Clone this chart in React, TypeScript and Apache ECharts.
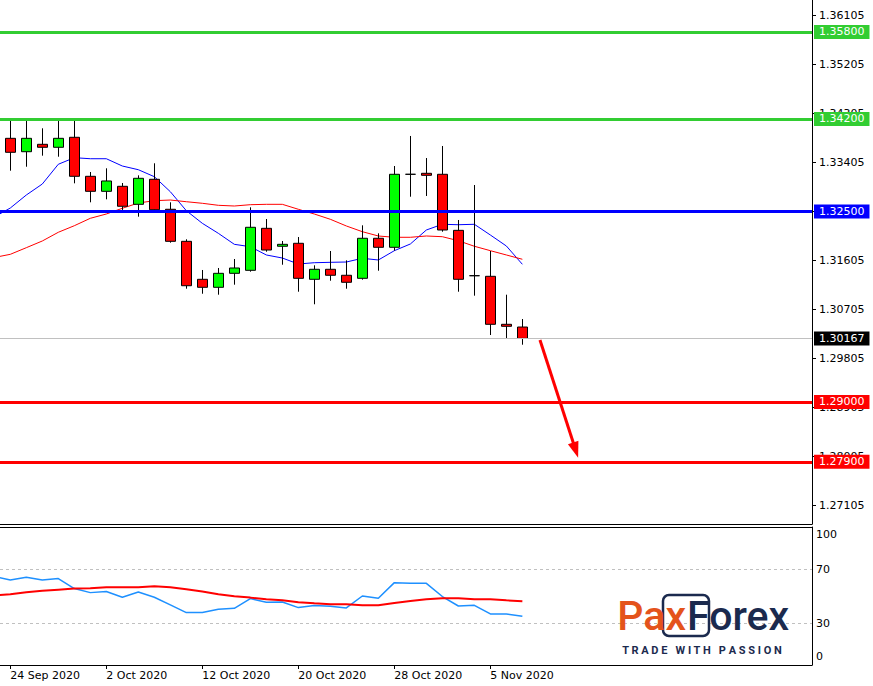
import React, { useEffect, useRef } from 'react';
import * as echarts from 'echarts';

// ---- data ----
const dates = [
  '24 Sep 2020', '25 Sep 2020', '28 Sep 2020', '29 Sep 2020', '30 Sep 2020',
  '1 Oct 2020', '2 Oct 2020', '5 Oct 2020', '6 Oct 2020', '7 Oct 2020', '8 Oct 2020', '9 Oct 2020',
  '12 Oct 2020', '13 Oct 2020', '14 Oct 2020', '15 Oct 2020', '16 Oct 2020',
  '19 Oct 2020', '20 Oct 2020', '21 Oct 2020', '22 Oct 2020', '23 Oct 2020',
  '26 Oct 2020', '27 Oct 2020', '28 Oct 2020', '29 Oct 2020', '30 Oct 2020',
  '2 Nov 2020', '3 Nov 2020', '4 Nov 2020', '5 Nov 2020', '6 Nov 2020', '9 Nov 2020',
];
const dateLabelIndex = [0, 6, 12, 18, 24, 30];

const open = [
  1.33844, 1.33598, 1.33734, 1.33679, 1.33863, 1.33146, 1.32870, 1.32962, 1.32631, 1.33091,
  1.32540, 1.31951, 1.31253, 1.31106, 1.31363, 1.31418, 1.32190, 1.31860, 1.31915, 1.31253,
  1.31437, 1.31327, 1.31271, 1.32007, 1.31841, 1.33183, 1.33201, 1.33183, 1.32153, 1.31319,
  1.31308, 1.30426, 1.30376,
];
const close = [
  1.33587, 1.33844, 1.33679, 1.33844, 1.33146, 1.32870, 1.33060, 1.32595, 1.33109, 1.32532,
  1.31951, 1.31135, 1.31106, 1.31363, 1.31461, 1.32209, 1.31791, 1.31896, 1.31271, 1.31437,
  1.31327, 1.31198, 1.32007, 1.31841, 1.33183, 1.33183, 1.33164, 1.32159, 1.31253, 1.31319,
  1.30426, 1.30389, 1.30167,
];
const low = [
  1.33249, 1.33322, 1.33525, 1.33506, 1.33017, 1.32668, 1.32723, 1.32527, 1.32404, 1.32510,
  1.31926, 1.31080, 1.30988, 1.30970, 1.31154, 1.31393, 1.31760, 1.31521, 1.31025, 1.30794,
  1.31227, 1.31080, 1.31246, 1.31411, 1.31779, 1.32771, 1.32784, 1.32128, 1.31025, 1.30952,
  1.30229, 1.30169, 1.30051,
];
const high = [
  1.34190, 1.34190, 1.34028, 1.34190, 1.34190, 1.33225, 1.33293, 1.33023, 1.33164, 1.33385,
  1.32668, 1.31988, 1.31424, 1.31461, 1.31626, 1.32576, 1.32361, 1.31957, 1.32030, 1.31510,
  1.31773, 1.31602, 1.32245, 1.32098, 1.33335, 1.33887, 1.33482, 1.33703, 1.32343, 1.32986,
  1.31773, 1.30970, 1.30523,
];

// indicator values start one bar before the first visible candle
const indicatorStart = -1;
const fastMA = [
  1.32398, 1.32563, 1.32802, 1.33004, 1.33367, 1.33488, 1.33469, 1.33469, 1.33335, 1.33267,
  1.33139, 1.32863, 1.32514, 1.32282, 1.32098, 1.31896, 1.31852, 1.31700, 1.31644, 1.31534,
  1.31558, 1.31565, 1.31571, 1.31639, 1.31608, 1.31779, 1.31902, 1.32159, 1.32264, 1.32256,
  1.32264, 1.32067, 1.31865, 1.31529,
];
const slowMA = [
  1.31654, 1.31712, 1.31834, 1.31957, 1.32117, 1.32238, 1.32374, 1.32453, 1.32558, 1.32655,
  1.32698, 1.32710, 1.32679, 1.32650, 1.32613, 1.32600, 1.32624, 1.32631, 1.32631, 1.32540,
  1.32453, 1.32356, 1.32233, 1.32128, 1.32049, 1.32025, 1.32025, 1.32049, 1.32036, 1.31962,
  1.31860, 1.31779, 1.31700, 1.31621,
];
const rsi = [
  64.5, 62.1, 64.1, 62.1, 63.1, 55.7, 52.7, 53.5, 49.3, 53.2,
  49.3, 43.6, 37.9, 37.9, 40.4, 41.1, 48.3, 45.6, 45.8, 41.6,
  43.1, 42.6, 41.4, 50.2, 48.5, 60.1, 59.6, 59.6, 49.8, 42.8,
  43.3, 36.9, 36.9, 35.2,
];
const rsiSignal = [
  50.6, 51.5, 53.0, 54.0, 54.9, 55.7, 55.9, 56.7, 56.7, 56.7,
  57.4, 56.7, 55.2, 53.5, 51.5, 50.0, 49.0, 47.8, 47.0, 45.6,
  44.8, 44.1, 44.1, 43.3, 43.3, 45.1, 46.5, 47.8, 48.5, 48.5,
  47.8, 47.8, 47.0, 46.3,
];

const priceTicks = [1.27105, 1.28005, 1.28905, 1.29805, 1.30705, 1.31605, 1.32505, 1.33405, 1.34305, 1.35205, 1.36105];
const rsiTicks = [0, 30, 70, 100];
const rsiLevels = [70, 30];

const levels = [1.358, 1.342, 1.325, 1.30167, 1.29, 1.279];
// arrow annotation: [bar index, price]
const arrowFrom = [33.1, 1.30137];
const arrowTo = [35.33, 1.28115];

// ---- styles ----
const levelColors = ['#32cd32', '#32cd32', '#0000ff', '#000000', '#ff0000', '#ff0000'];
const levelLineColors = ['#32cd32', '#32cd32', '#0000ff', '#c0c0c0', '#ff0000', '#ff0000'];
const levelWidths = [3, 3, 3, 1, 3, 3];

const X_MIN = -0.644;
const X_MAX = 50.1;
const Y_MIN = 1.26756;
const Y_MAX = 1.36386;
const FONT = 'DejaVu Sans';
const NAVY = '#1b2a4e';
const ORANGE = '#e4531b';

export default function App() {
  const ref = useRef<HTMLDivElement>(null);

  useEffect(() => {
    if (!ref.current) return;
    const chart = echarts.init(ref.current, null, { renderer: 'svg' });

    const candleData = open.map((o, i) => [i, o, close[i], low[i], high[i]]);
    const toPts = (arr: number[]) => arr.map((v, k) => [k + indicatorStart, v]);

    const levelMarks = levels.map((v, i) => ({
      yAxis: v,
      lineStyle: { color: levelLineColors[i], width: levelWidths[i], type: 'solid' },
      label: {
        show: true,
        position: 'end',
        formatter: v.toFixed(5),
        color: '#ffffff',
        backgroundColor: levelColors[i],
        padding: [1, 5, 1, 5],
        fontSize: 11,
        lineHeight: 12,
        fontFamily: FONT,
        distance: 2,
      },
    }));

    const axisBlack = { show: true, onZero: false, lineStyle: { color: '#000', width: 1 } };

    const option: any = {
      animation: false,
      backgroundColor: '#ffffff',
      textStyle: { fontFamily: FONT },
      grid: [
        { left: 0, top: 0, width: 812, height: 524, outerBoundsMode: 'none' },
        { left: 0, top: 527, width: 812, height: 138, outerBoundsMode: 'none' },
      ],
      xAxis: [
        {
          type: 'value', gridIndex: 0, min: X_MIN, max: X_MAX,
          axisLine: axisBlack, axisTick: { show: false }, axisLabel: { show: false }, splitLine: { show: false },
        },
        {
          type: 'value', gridIndex: 1, min: X_MIN, max: X_MAX, position: 'bottom',
          axisLine: axisBlack,
          axisTick: { show: true, customValues: dateLabelIndex, length: 4, lineStyle: { color: '#000' } },
          axisLabel: {
            customValues: dateLabelIndex,
            formatter: (v: number) => dates[Math.round(v)],
            align: 'left', margin: 5, fontSize: 11, color: '#000', fontFamily: FONT,
          },
          splitLine: { show: false },
        },
        {
          type: 'value', gridIndex: 1, min: X_MIN, max: X_MAX, position: 'top',
          axisLine: axisBlack, axisTick: { show: false }, axisLabel: { show: false }, splitLine: { show: false },
        },
      ],
      yAxis: [
        {
          type: 'value', gridIndex: 0, position: 'right', min: Y_MIN, max: Y_MAX, scale: true,
          axisLine: axisBlack,
          axisTick: { show: true, customValues: priceTicks, length: 4, lineStyle: { color: '#000' } },
          axisLabel: {
            customValues: priceTicks,
            formatter: (v: number) => v.toFixed(5),
            margin: 7, fontSize: 11, color: '#000', fontFamily: FONT,
          },
          splitLine: { show: false },
        },
        {
          type: 'value', gridIndex: 1, position: 'right', min: -0.9, max: 101.3,
          axisLine: axisBlack,
          axisTick: { show: false },
          axisLabel: {
            customValues: rsiTicks,
            margin: 4, fontSize: 11, color: '#000', fontFamily: FONT,
            formatter: (v: number) => (v === 100 ? '{t|100}' : v === 0 ? '{b|0}' : '{m|' + v + '}'),
            rich: {
              t: { padding: [12, 0, 0, 0], fontSize: 11, color: '#000', fontFamily: FONT },
              b: { padding: [0, 0, 14, 0], fontSize: 11, color: '#000', fontFamily: FONT },
              m: { fontSize: 11, color: '#000', fontFamily: FONT },
            },
          },
          splitLine: { show: false },
        },
      ],
      series: [
        {
          name: 'fastMA', type: 'line', xAxisIndex: 0, yAxisIndex: 0, z: 2,
          data: toPts(fastMA), showSymbol: false, symbol: 'none',
          lineStyle: { color: '#0000ff', width: 1 }, silent: true,
        },
        {
          name: 'slowMA', type: 'line', xAxisIndex: 0, yAxisIndex: 0, z: 2,
          data: toPts(slowMA), showSymbol: false, symbol: 'none',
          lineStyle: { color: '#ff0000', width: 1 }, silent: true,
        },
        {
          name: 'GBPUSD', type: 'candlestick', xAxisIndex: 0, yAxisIndex: 0, z: 3,
          dimensions: ['idx', 'open', 'close', 'lowest', 'highest'],
          encode: { x: 'idx', y: ['open', 'close', 'lowest', 'highest'] },
          data: candleData,
          barWidth: 10,
          itemStyle: {
            color: '#00ff00', color0: '#ff0000',
            borderColor: '#000000', borderColor0: '#000000', borderColorDoji: '#000000',
            borderWidth: 1,
          },
          markLine: {
            silent: true, symbol: ['none', 'none'], animation: false, precision: 5,
            data: levelMarks,
          },
        },
        {
          name: 'arrow', type: 'line', xAxisIndex: 0, yAxisIndex: 0, data: [], z: 5,
          markLine: {
            silent: true, animation: false, precision: 5,
            symbol: ['none', 'triangle'], symbolSize: [11, 16],
            lineStyle: { color: '#ff0000', width: 3, type: 'solid' },
            label: { show: false },
            data: [[{ coord: arrowFrom }, { coord: arrowTo }]],
          },
        },
        {
          name: 'RSI', type: 'line', xAxisIndex: 1, yAxisIndex: 1,
          data: toPts(rsi), showSymbol: false, symbol: 'none',
          lineStyle: { color: '#1e90ff', width: 1.5 }, silent: true,
          markLine: {
            silent: true, symbol: ['none', 'none'], animation: false,
            label: { show: false },
            lineStyle: { color: '#c0c0c0', width: 1, type: [3, 3] },
            data: rsiLevels.map((v) => ({ yAxis: v })),
          },
        },
        {
          name: 'Signal', type: 'line', xAxisIndex: 1, yAxisIndex: 1,
          data: toPts(rsiSignal), showSymbol: false, symbol: 'none',
          lineStyle: { color: '#ff0000', width: 2 }, silent: true,
        },
      ],
      graphic: [
        {
          type: 'rect', z: 100,
          shape: { x: 663, y: 595, width: 46, height: 41, r: 6 },
          style: { fill: 'none', stroke: NAVY, lineWidth: 2.5 },
        },
        {
          type: 'text', z: 101, x: 686, y: 616,
          style: { text: 'Pax', fill: ORANGE, font: '500 41px Roboto', textAlign: 'right', verticalAlign: 'middle' },
        },
        {
          type: 'text', z: 101, x: 687, y: 616,
          style: { text: 'Forex', fill: NAVY, font: '500 41px Roboto', textAlign: 'left', verticalAlign: 'middle' },
        },
        {
          type: 'text', z: 101, x: 702, y: 650,
          style: {
            text: 'T R A D E   W I T H   P A S S I O N',
            fill: NAVY, font: 'bold 11px Roboto', textAlign: 'center', verticalAlign: 'middle',
          },
        },
      ],
    };

    chart.setOption(option);
    return () => chart.dispose();
  }, []);

  return (
    <div
      ref={ref}
      style={{ position: 'fixed', left: 0, top: 0, width: 873, height: 686, background: '#fff' }}
    />
  );
}
